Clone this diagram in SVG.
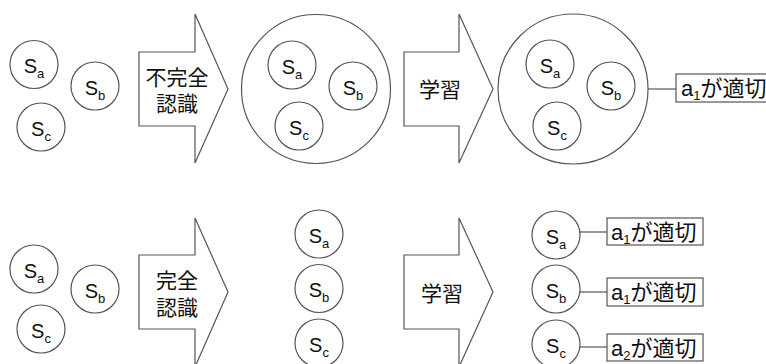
<svg xmlns="http://www.w3.org/2000/svg" width="766" height="364" viewBox="0 0 766 364">
  <style>
    .c { fill: #ffffff; stroke: #555555; stroke-width: 1.2; }
    .big { fill: #ffffff; stroke: #555555; stroke-width: 1.2; }
    .arrow { fill: #ffffff; stroke: #555555; stroke-width: 1.2; stroke-linejoin: miter; }
    .box { fill: #ffffff; stroke: #555555; stroke-width: 1.2; }
    .link { stroke: #555555; stroke-width: 1.2; fill: none; }
    .s { font-family: "Liberation Sans", Arial, sans-serif; font-size: 20px; fill: #111111; text-anchor: middle; }
    .sub { font-size: 13px; }
    .jp { font-family: "Liberation Sans", "Noto Sans CJK JP", sans-serif; font-size: 21px; fill: #111111; text-anchor: middle; }
    .lbl { font-family: "Liberation Sans", "Noto Sans CJK JP", sans-serif; font-size: 22px; fill: #111111; }
    .lsub { font-size: 13px; }
  </style>

  <!-- connectors: state/circle to label box -->
  <g id="connectors">
    <line class="link" x1="648" y1="89" x2="676" y2="89"/>
    <line class="link" x1="580" y1="232" x2="607" y2="232"/>
    <line class="link" x1="580" y1="292" x2="607" y2="292"/>
    <line class="link" x1="580" y1="347" x2="607" y2="347"/>
  </g>

  <!-- top row: states before recognition -->
  <g id="t-sa"><circle class="c" cx="34" cy="64.5" r="24"/><text class="s" x="34" y="73">S<tspan class="sub" dy="5">a</tspan></text></g>
  <g id="t-sb"><circle class="c" cx="95" cy="86" r="24"/><text class="s" x="95" y="94.5">S<tspan class="sub" dy="5">b</tspan></text></g>
  <g id="t-sc"><circle class="c" cx="41" cy="127" r="24"/><text class="s" x="41" y="135.5">S<tspan class="sub" dy="5">c</tspan></text></g>

  <!-- top row: incomplete recognition arrow -->
  <g id="t-arrow1">
    <polygon class="arrow" points="139,52 195,52 195,14 228,89 195,163 195,126 139,126"/>
    <text class="jp" x="177" y="85">不完全</text>
    <text class="jp" x="177" y="111">認識</text>
  </g>

  <!-- top row: merged group -->
  <g id="t-group1">
    <circle class="big" cx="316" cy="89" r="74.5"/>
    <circle class="c" cx="292" cy="65" r="24"/><text class="s" x="292" y="73.5">S<tspan class="sub" dy="5">a</tspan></text>
    <circle class="c" cx="353" cy="86" r="24"/><text class="s" x="353" y="94.5">S<tspan class="sub" dy="5">b</tspan></text>
    <circle class="c" cx="299" cy="126" r="24"/><text class="s" x="299" y="134.5">S<tspan class="sub" dy="5">c</tspan></text>
  </g>

  <!-- top row: learning arrow -->
  <g id="t-arrow2">
    <polygon class="arrow" points="404,52 459,52 459,14 493,89 459,163 459,126 404,126"/>
    <text class="jp" x="440" y="97">学習</text>
  </g>

  <!-- top row: learned group -->
  <g id="t-group2">
    <circle class="big" cx="573" cy="89" r="75"/>
    <circle class="c" cx="550" cy="64" r="24"/><text class="s" x="550" y="72.5">S<tspan class="sub" dy="5">a</tspan></text>
    <circle class="c" cx="611" cy="86" r="24"/><text class="s" x="611" y="94.5">S<tspan class="sub" dy="5">b</tspan></text>
    <circle class="c" cx="557" cy="126" r="24"/><text class="s" x="557" y="134.5">S<tspan class="sub" dy="5">c</tspan></text>
  </g>

  <g id="t-label">
    <rect class="box" x="676" y="74" width="96" height="28"/>
    <text class="lbl" x="681" y="96">a<tspan class="lsub" dy="4">1</tspan><tspan dy="-4">が適切</tspan></text>
  </g>

  <!-- bottom row: states before recognition -->
  <g id="b-sa"><circle class="c" cx="34" cy="269" r="24"/><text class="s" x="34" y="277.5">S<tspan class="sub" dy="5">a</tspan></text></g>
  <g id="b-sb"><circle class="c" cx="95" cy="289" r="24"/><text class="s" x="95" y="297.5">S<tspan class="sub" dy="5">b</tspan></text></g>
  <g id="b-sc"><circle class="c" cx="41" cy="329" r="24"/><text class="s" x="41" y="337.5">S<tspan class="sub" dy="5">c</tspan></text></g>

  <!-- bottom row: complete recognition arrow -->
  <g id="b-arrow1">
    <polygon class="arrow" points="139,255 195,255 195,218 228,292 195,367 195,329 139,329"/>
    <text class="jp" x="177" y="288">完全</text>
    <text class="jp" x="177" y="315">認識</text>
  </g>

  <!-- bottom row: separated states -->
  <g id="b-mid-sa"><circle class="c" cx="319" cy="234" r="24"/><text class="s" x="319" y="242.5">S<tspan class="sub" dy="5">a</tspan></text></g>
  <g id="b-mid-sb"><circle class="c" cx="319" cy="288.5" r="24"/><text class="s" x="319" y="297">S<tspan class="sub" dy="5">b</tspan></text></g>
  <g id="b-mid-sc"><circle class="c" cx="319" cy="343" r="24"/><text class="s" x="319" y="351.5">S<tspan class="sub" dy="5">c</tspan></text></g>

  <!-- bottom row: learning arrow -->
  <g id="b-arrow2">
    <polygon class="arrow" points="404,255 459,255 459,218 493,292 459,367 459,329 404,329"/>
    <text class="jp" x="442" y="301">学習</text>
  </g>

  <!-- bottom row: learned states with actions -->
  <g id="b-right-sa">
    <circle class="c" cx="556" cy="235" r="24"/><text class="s" x="556" y="243.5">S<tspan class="sub" dy="5">a</tspan></text>
    <rect class="box" x="607" y="218" width="96" height="27"/>
    <text class="lbl" x="611" y="239.5">a<tspan class="lsub" dy="4">1</tspan><tspan dy="-4">が適切</tspan></text>
  </g>
  <g id="b-right-sb">
    <circle class="c" cx="556" cy="289" r="24"/><text class="s" x="556" y="297.5">S<tspan class="sub" dy="5">b</tspan></text>
    <rect class="box" x="607" y="278" width="96" height="28"/>
    <text class="lbl" x="611" y="300">a<tspan class="lsub" dy="4">1</tspan><tspan dy="-4">が適切</tspan></text>
  </g>
  <g id="b-right-sc">
    <circle class="c" cx="556" cy="344" r="24"/><text class="s" x="556" y="352.5">S<tspan class="sub" dy="5">c</tspan></text>
    <rect class="box" x="607" y="334" width="96" height="27"/>
    <text class="lbl" x="611" y="355.5">a<tspan class="lsub" dy="4">2</tspan><tspan dy="-4">が適切</tspan></text>
  </g>
</svg>
